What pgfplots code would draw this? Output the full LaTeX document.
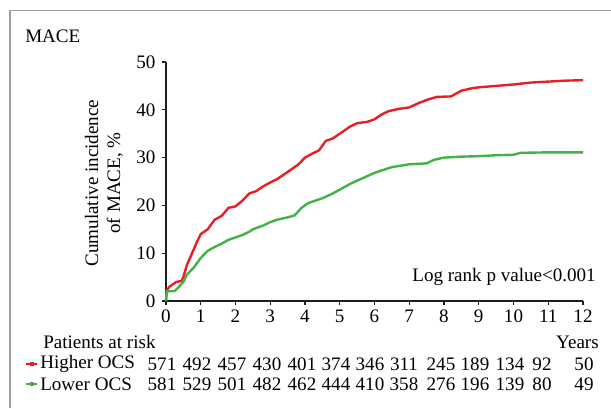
\documentclass[border=0pt]{standalone}
\usepackage{fontspec}
\setmainfont{Liberation Serif}
\usepackage{pgfplots}
\pgfplotsset{compat=1.18}
\definecolor{kmred}{RGB}{232,30,36}
\definecolor{kmgreen}{RGB}{64,178,70}
\definecolor{axgray}{RGB}{30,30,30}

\begin{document}
\fontsize{14.3}{16.5}\selectfont
\begin{tikzpicture}
\begin{scope}[x=0.75pt,y=-0.75pt,shift={(0pt,306pt)}]
\useasboundingbox (0,0) rectangle (611,408);
% outer frame (clipped at right and bottom)
\draw[gray!75, line width=1pt] (10,408) -- (10,10.5) -- (611,10.5);
\end{scope}

\begin{axis}[
    at={(124.5pt,80.25pt)}, anchor=south west,
    scale only axis,
    width=312.75pt, height=179.25pt,
    xmin=0, xmax=12, ymin=0, ymax=50,
    axis lines=left,
    axis line style={-, axgray, line width=1.5pt},
    xtick={0,1,...,12}, ytick={0,10,...,50},
    tick align=outside,
    major tick length=3pt,
    tick style={axgray, line width=1pt},
    /pgf/number format/assume math mode=true,
    tick label style={font=\fontsize{14.3}{16.5}\selectfont},
    xticklabel style={yshift=1.5pt},
    clip=false,
]
% Higher OCS
\addplot[kmred, line width=1.8pt] coordinates {
(0,0) (0.02,2.2) (0.1,3) (0.3,4) (0.45,4.2) (0.5,5) (0.6,7.5) (0.75,10)
(0.9,12.5) (1.0,14) (1.2,15) (1.4,17) (1.6,17.8) (1.8,19.5) (2.0,19.8)
(2.2,21) (2.4,22.5) (2.6,23) (2.8,24) (3.0,24.8) (3.2,25.5) (3.5,27)
(3.8,28.5) (4.0,30) (4.2,30.8) (4.4,31.5) (4.6,33.5) (4.8,34) (5.0,35)
(5.3,36.5) (5.5,37.2) (5.8,37.5) (6.0,38) (6.2,39) (6.4,39.7) (6.7,40.2)
(7.0,40.5) (7.3,41.5) (7.6,42.3) (7.8,42.7) (8.2,42.8) (8.5,44) (8.8,44.5)
(9.0,44.7) (9.5,45) (10.0,45.3) (10.5,45.7) (11.0,45.9) (11.5,46.1) (12.0,46.2)
};
% Lower OCS
\addplot[kmgreen, line width=1.8pt] coordinates {
(0,0) (0.02,2) (0.25,2.1) (0.35,2.8) (0.5,4) (0.6,5.5) (0.8,7) (1.0,9)
(1.2,10.5) (1.4,11.3) (1.6,12) (1.8,12.8) (2.0,13.3) (2.2,13.8) (2.4,14.5)
(2.5,15) (2.8,15.8) (3.0,16.5) (3.2,17) (3.5,17.5) (3.7,17.9) (3.9,19.5)
(4.1,20.5) (4.5,21.5) (4.8,22.5) (5.0,23.3) (5.3,24.5) (5.6,25.5) (6.0,26.8)
(6.2,27.3) (6.5,28) (7.0,28.6) (7.5,28.8) (7.7,29.5) (8.0,30) (8.5,30.2)
(9.0,30.3) (9.5,30.5) (10.0,30.6) (10.2,31) (11.0,31.1) (12.0,31.1)
};
\end{axis}

\begin{scope}[x=0.75pt,y=-0.75pt,shift={(0pt,306pt)}]
% titles and labels
\node[anchor=west, inner sep=0pt] at (25,36) {MACE};
\node[rotate=90, align=center] at (104,183) {Cumulative incidence\\of MACE, \%};
\node[anchor=east, inner sep=0pt] at (596,277) {Log rank p value<0.001};

% patients at risk table
\node[anchor=west, inner sep=0pt] at (43,342) {Patients at risk};
\node[anchor=east, inner sep=0pt] at (599,342) {Years};
\draw[kmred, line width=1.3pt] (26,364) -- (37,364);
\fill[kmred] (29.5,362) rectangle (33.5,366);
\draw[kmgreen, line width=1.3pt] (26,384) -- (37,384);
\fill[kmgreen] (29.5,382) rectangle (33.5,386);
\node[anchor=west, inner sep=0pt] at (40,364) {Higher OCS};
\node[anchor=west, inner sep=0pt] at (40,384) {Lower OCS};
\foreach \n/\xx in {571/162,492/197,457/232,430/267,401/302,374/336,346/370,311/404,245/441,189/475,134/510,92/542,50/584}
  \node at (\xx,364) {\n};
\foreach \n/\xx in {581/162,529/197,501/232,482/267,462/302,444/336,410/370,358/404,276/441,196/475,139/510,80/542,49/584}
  \node at (\xx,384) {\n};
\end{scope}
\end{tikzpicture}
\end{document}
